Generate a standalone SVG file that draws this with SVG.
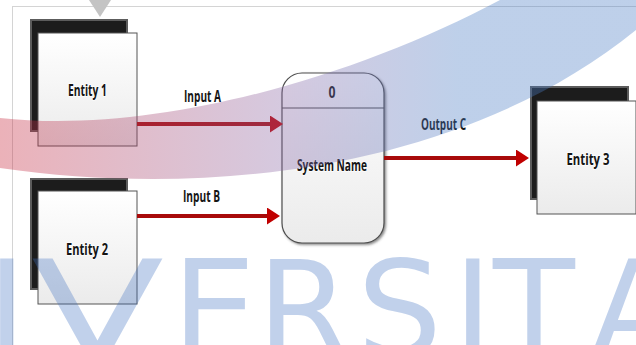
<svg xmlns="http://www.w3.org/2000/svg" width="636" height="345" viewBox="0 0 636 345">
  <defs>
    <linearGradient id="boxFill" x1="0" y1="0" x2="0" y2="1">
      <stop offset="0" stop-color="#ffffff"/>
      <stop offset="1" stop-color="#ebebeb"/>
    </linearGradient>
    <linearGradient id="swoosh" gradientUnits="userSpaceOnUse" x1="0" y1="0" x2="636" y2="0">
      <stop offset="0" stop-color="#c8283c"/>
      <stop offset="0.45" stop-color="#8a6aa8"/>
      <stop offset="0.72" stop-color="#4a7cc4"/>
      <stop offset="1" stop-color="#4a7cc4"/>
    </linearGradient>
    <marker id="arrow" markerUnits="userSpaceOnUse" markerWidth="13" markerHeight="17" refX="5" refY="8.5" orient="auto">
      <path d="M0,0 L13,8.5 L0,17 Z" fill="#c00000"/>
    </marker>
    <filter id="shadow" x="-10%" y="-10%" width="130%" height="130%">
      <feDropShadow dx="1.5" dy="1.5" stdDeviation="1" flood-color="#404040" flood-opacity="0.6"/>
    </filter>
  </defs>
  <style>
    .frame { fill: none; stroke: #d4d4d4; stroke-width: 1; }
    .back { fill: #1c1c1c; stroke: #5c5c5c; stroke-width: 2; }
    .face { fill: url(#boxFill); stroke: #555555; stroke-width: 1; }
    .proc { fill: url(#boxFill); stroke: #4d4d4d; stroke-width: 1.2; }
    .lbl { font-family: "Open Sans", "Liberation Sans", sans-serif; font-weight: bold; font-size: 16.5px;
           fill: #151515; text-anchor: middle; stroke: #ffffff; stroke-width: 2; stroke-opacity: 0.7;
           stroke-linejoin: round; paint-order: stroke; }
    .flow { stroke: #a80a0a; stroke-width: 4; fill: none; marker-end: url(#arrow); }
    .mark { font-family: "DejaVu Sans", sans-serif; font-size: 134px; fill: #3f6fc0; fill-opacity: 0.32; }
  </style>

  <!-- page frame and top pointer -->
  <rect class="frame" x="12.5" y="6.5" width="700" height="400"/>
  <polygon points="89,0 111,0 100,17" fill="#c4c4c4"/>

  <!-- external entities -->
  <g id="entity1">
    <rect class="back" x="31" y="20" width="96" height="111"/>
    <rect class="face" x="38" y="33" width="99" height="113"/>
    <text class="lbl" x="87.5" y="96" textLength="39" lengthAdjust="spacingAndGlyphs">Entity 1</text>
  </g>
  <g id="entity2">
    <rect class="back" x="31" y="179" width="96" height="110"/>
    <rect class="face" x="38" y="191" width="99" height="113"/>
    <text class="lbl" x="87" y="255" textLength="42" lengthAdjust="spacingAndGlyphs">Entity 2</text>
  </g>
  <g id="entity3">
    <rect class="back" x="531" y="87" width="97" height="112"/>
    <rect class="face" x="537" y="101" width="99" height="113"/>
    <text class="lbl" x="588" y="165" textLength="43" lengthAdjust="spacingAndGlyphs">Entity 3</text>
  </g>

  <!-- process -->
  <g id="process0">
    <rect class="proc" x="282" y="73" width="102" height="170" rx="20" ry="20" filter="url(#shadow)"/>
    <line x1="282" y1="108" x2="384" y2="108" stroke="#4d4d4d" stroke-width="1.2"/>
    <text class="lbl" x="332" y="98" textLength="7" lengthAdjust="spacingAndGlyphs">0</text>
    <text class="lbl" x="332" y="171" textLength="70" lengthAdjust="spacingAndGlyphs">System Name</text>
  </g>

  <!-- data flows -->
  <g id="connectors">
    <line class="flow" x1="137" y1="124" x2="275" y2="124"/>
    <line class="flow" x1="137" y1="216" x2="272" y2="216"/>
    <line class="flow" x1="384" y1="158" x2="521" y2="158"/>
    <text class="lbl" x="202.5" y="102" textLength="37" lengthAdjust="spacingAndGlyphs">Input A</text>
    <text class="lbl" x="201.5" y="202" textLength="37" lengthAdjust="spacingAndGlyphs">Input B</text>
    <text class="lbl" x="443.5" y="130" textLength="45" lengthAdjust="spacingAndGlyphs">Output C</text>
  </g>

  <!-- translucent swoosh and lettering laid over the page -->
  <g id="watermark">
    <path d="M0,118 C150,135 350,80 500,0 L636,0 L636,30 C470,165 220,200 0,168 Z" fill="url(#swoosh)" opacity="0.36"/>
    <text class="mark" y="356"><tspan x="-13">I</tspan><tspan x="31" textLength="133" lengthAdjust="spacingAndGlyphs">V</tspan><tspan x="172">E</tspan><tspan x="257">R</tspan><tspan x="357">S</tspan><tspan x="453">I</tspan><tspan x="493">T</tspan><tspan x="590">A</tspan></text>
  </g>
</svg>
